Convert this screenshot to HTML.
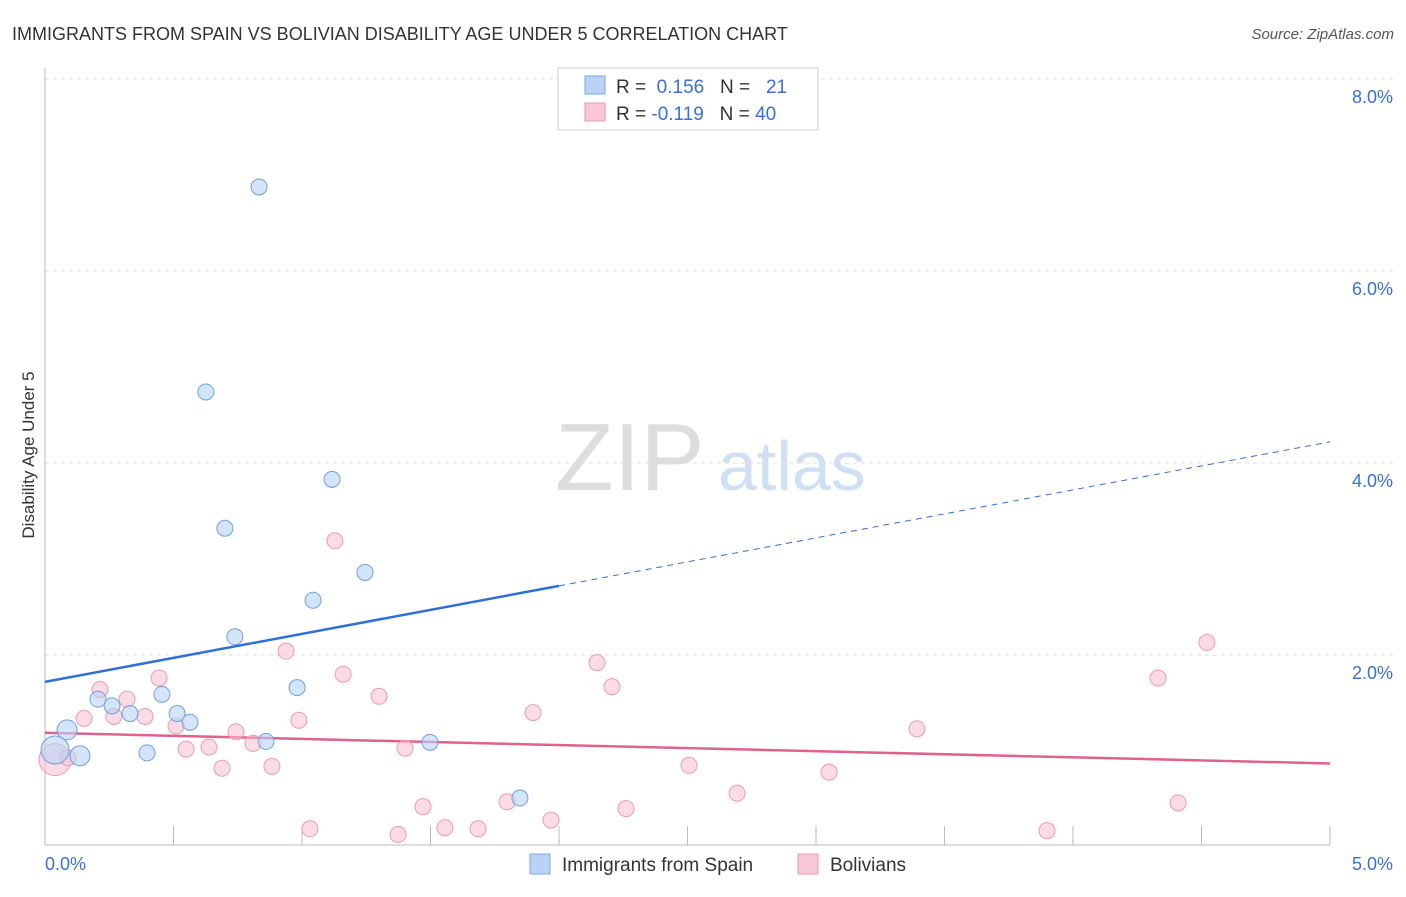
<!DOCTYPE html>
<html><head><meta charset="utf-8"><style>
body{margin:0;background:#fff;font-family:"Liberation Sans",sans-serif;}
svg text{font-family:"Liberation Sans",sans-serif;}
</style></head><body>
<svg id="chart" width="1406" height="892" xmlns="http://www.w3.org/2000/svg">
<text x="12" y="40" font-size="18" fill="#333">IMMIGRANTS FROM SPAIN VS BOLIVIAN DISABILITY AGE UNDER 5 CORRELATION CHART</text>
<text x="1394" y="39" font-size="15" fill="#555" font-style="italic" text-anchor="end">Source: ZipAtlas.com</text>
<text x="555" y="490" font-size="96" fill="#ddd" font-family="Liberation Serif">ZIP</text>
<text x="718" y="490" font-size="70" fill="#cfe0f5">atlas</text>
<g id="grid"></g>
<line x1="45" y1="845" x2="1330" y2="845" stroke="#bbb"/>
<line x1="45" y1="68" x2="45" y2="845" stroke="#bbb"/>
<text transform="translate(34,455) rotate(-90)" font-size="17" fill="#333" text-anchor="middle">Disability Age Under 5</text>
<text x="45" y="870" font-size="18" fill="#3a6fd8">0.0%</text>
<text x="1393" y="870" font-size="18" fill="#3a6fd8" text-anchor="end">5.0%</text>
<g id="lines"></g>
<g id="points"></g>
<g>
<rect x="558" y="68" width="260" height="62" fill="#fff" stroke="#ccc"/>
<rect x="585" y="76" width="20" height="18" fill="#b8d3f5" stroke="#7aa6e6"/>
<rect x="585" y="103" width="20" height="18" fill="#f9c7d6" stroke="#eb9ab4"/>
<text x="616" y="93" font-size="19" fill="#333">R = <tspan fill="#3a6fd8">&#160;0.156</tspan>&#160;&#160;&#160;N = <tspan fill="#3a6fd8">&#160;&#160;21</tspan></text>
<text x="616" y="120" font-size="19" fill="#333">R = <tspan fill="#3a6fd8">-0.119</tspan>&#160;&#160;&#160;N = <tspan fill="#3a6fd8">40</tspan></text>
</g>
<g>
<rect x="530" y="854" width="20" height="20" fill="#b8d3f5" stroke="#7aa6e6"/>
<text x="562" y="871" font-size="19" fill="#333">Immigrants from Spain</text>
<rect x="798" y="854" width="20" height="20" fill="#f9c7d6" stroke="#eb9ab4"/>
<text x="830" y="871" font-size="19" fill="#333">Bolivians</text>
</g>
</svg>
<script>
const yTicks=[2,4,6,8];
const xTicks=[0,0.5,1,1.5,2,2.5,3,3.5,4,4.5,5];
const blueX=[0.833,0.626,1.117,0.700,1.245,1.043,0.739,0.981,0.455,0.206,0.261,0.331,0.514,0.564,0.086,0.136,0.397,0.860,1.498,1.848,0.039];
const blueY=[6.875,4.74,3.83,3.32,2.86,2.57,2.19,1.66,1.59,1.54,1.47,1.39,1.39,1.30,1.22,0.95,0.98,1.10,1.09,0.51,1.01];
const pinkX=[0.039,0.089,0.214,0.152,0.319,0.268,0.389,0.444,0.510,0.549,0.638,0.689,0.743,0.809,0.883,0.938,0.988,1.031,1.128,1.160,1.300,1.374,1.401,1.471,1.556,1.685,1.798,1.899,1.969,2.148,2.206,2.261,2.506,2.693,3.051,3.393,3.899,4.331,4.409,4.521];
const pinkY=[0.91,0.93,1.64,1.34,1.54,1.36,1.36,1.76,1.26,1.02,1.04,0.82,1.20,1.08,0.84,2.04,1.32,0.19,3.19,1.80,1.57,0.13,1.03,0.42,0.20,0.19,0.47,1.40,0.28,1.92,1.67,0.40,0.85,0.56,0.78,1.23,0.17,1.76,0.46,2.13];
const blueTrend=[1.72,4.22];
const pinkTrend=[1.19,0.87];
const sx=v=>45+v*257, sy=v=>847-v*96;
const NS="http://www.w3.org/2000/svg";
function mk(t,a,p){const e=document.createElementNS(NS,t);for(const k in a)e.setAttribute(k,a[k]);p.appendChild(e);return e;}
const grid=document.getElementById('grid');
yTicks.forEach(t=>{
 const l=mk('line',{x1:45,x2:1393,y1:sy(t),y2:sy(t),stroke:'#ddd','stroke-dasharray':'4,4'},grid);
 
 
 const tx=mk('text',{x:1393,y:sy(t)+24,'font-size':18,fill:'#3a6fd8','text-anchor':'end'},grid);
 tx.textContent=t.toFixed(1)+'%';
 
 
});
const gl=mk('line',{x1:45,x2:1393,y1:79,y2:79,stroke:'#ddd','stroke-dasharray':'4,4'},grid);


xTicks.forEach(t=>{
 const l=mk('line',{x1:sx(t),x2:sx(t),y1:826,y2:845,stroke:'#bbb'},grid);
 
 
});
const lines=document.getElementById('lines');
const bx=2.0;
const by=v=>blueTrend[0]+(blueTrend[1]-blueTrend[0])*v/5;
let l1=mk('line',{x1:sx(0),y1:sy(by(0)),x2:sx(bx),y2:sy(by(bx)),stroke:'#2f6fd6','stroke-width':2.5},lines);


let l2=mk('line',{x1:sx(bx),y1:sy(by(bx)),x2:sx(5),y2:sy(by(5)),stroke:'#2f6fd6','stroke-width':1,'stroke-dasharray':'6,5'},lines);


let l3=mk('line',{x1:sx(0),y1:sy(pinkTrend[0]),x2:sx(5),y2:sy(pinkTrend[1]),stroke:'#e0608e','stroke-width':2.5},lines);


const pts=document.getElementById('points');
pinkX.forEach((x,i)=>{
 const c=mk('circle',{cx:sx(x),cy:sy(pinkY[i]),r:i==0?16:8,fill:'rgba(248,190,210,0.55)',stroke:'#ec9ab6','stroke-width':1},pts);
 
 
});
blueX.forEach((x,i)=>{
 const c=mk('circle',{cx:sx(x),cy:sy(blueY[i]),r:i==20?14:(i==14||i==15?10:8),fill:'rgba(184,211,245,0.6)',stroke:'#6f9fe0','stroke-width':1},pts);
 
 
});
</script>
</body></html>
